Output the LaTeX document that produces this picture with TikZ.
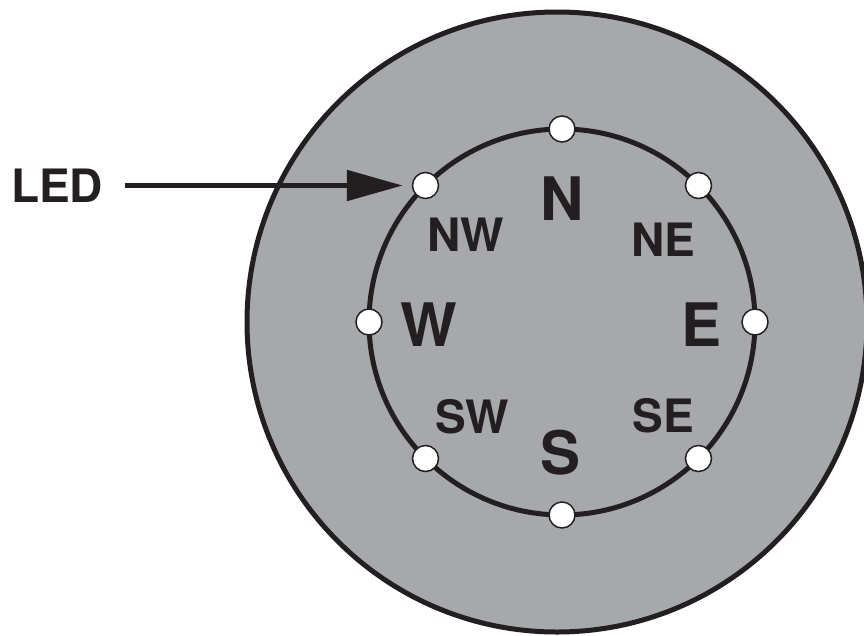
\documentclass[tikz,border=0pt]{standalone}
\usepackage{fontspec}
\setmainfont{TeX Gyre Heros}
\usetikzlibrary{arrows.meta}
\definecolor{ink}{HTML}{231F20}
\definecolor{disk}{HTML}{A7A8AC}
\begin{document}
\begin{tikzpicture}[x=1pt,y=-1pt,
  ring/.style={draw=ink,line width=5pt},
  ledlamp/.style={circle,draw=ink,fill=white,line width=1.5pt,minimum size=26pt,inner sep=0pt},
  bigdir/.style={text=ink,font=\fontsize{60}{60}\selectfont\bfseries,inner sep=0pt},
  smalldir/.style={text=ink,font=\fontsize{46}{46}\selectfont\bfseries,inner sep=0pt},
  pointer/.style={draw=ink,line width=5.5pt,-{Triangle[length=56pt,width=30pt]}}
]
\useasboundingbox (0,0) rectangle (864,635);
\clip (0,0) rectangle (864,635);
\fill[white] (0,0) rectangle (864,635);
\draw[ring,fill=disk] (557,322) circle[radius=310pt];
\draw[ring] (562,322) circle[radius=193pt];
% LEDs
\node[ledlamp] (n)  at (562,129) {};
\node[ledlamp] (ne) at (698.5,185.5) {};
\node[ledlamp] (e)  at (755,322) {};
\node[ledlamp] (se) at (698.5,458.5) {};
\node[ledlamp] (s)  at (562,515) {};
\node[ledlamp] (sw) at (425.5,458.5) {};
\node[ledlamp] (w)  at (369,322) {};
\node[ledlamp] (nw) at (425.5,185.5) {};
% direction labels
\node[bigdir] (ln) at (562,198.5) {N};
\node[bigdir] (ls) at (561,453) {S};
\node[bigdir] (lw) at (428.5,325) {W};
\node[bigdir] (le) at (701,325) {E};
\node[smalldir] (lnw) at (466,235) {NW};
\node[smalldir] (lne) at (663,240) {NE};
\node[smalldir] (lsw) at (472,417) {SW};
\node[smalldir] (lse) at (663,416) {SE};
% LED pointer
\node[smalldir] (led) at (57,185.5) {LED};
\draw[pointer] ([xshift=22pt]led.east) -- ([xshift=-9pt]nw.west);
\end{tikzpicture}
\end{document}
